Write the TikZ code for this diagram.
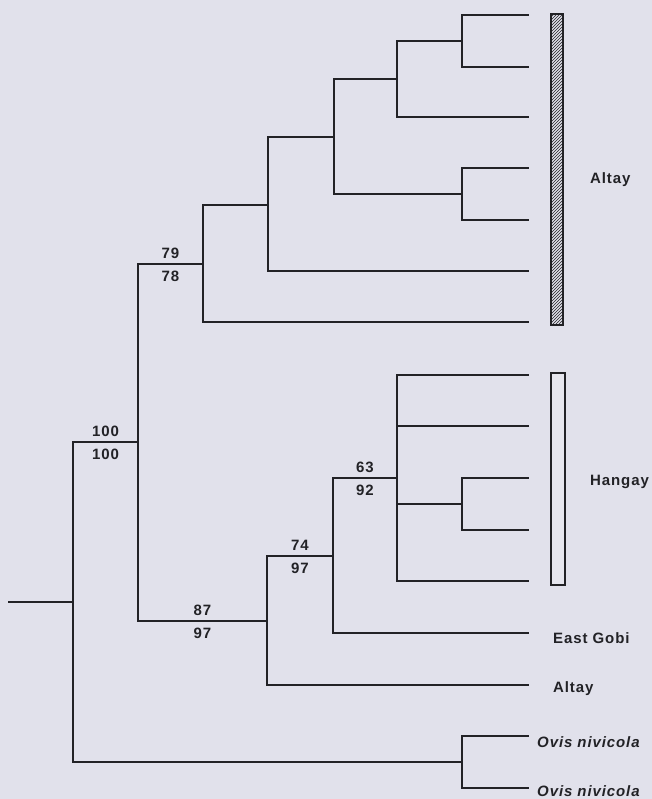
\documentclass[tikz,border=0pt]{standalone}
\usepackage{fontspec}
\newfontfamily\treefont{Liberation Sans}[LetterSpace=6]
\usetikzlibrary{patterns}
\definecolor{treebg}{HTML}{E1E1EB}
\definecolor{treeink}{HTML}{222226}

\begin{document}
\begin{tikzpicture}[x=1pt, y=-1pt,
  branch/.style={draw=treeink, line width=1.4pt, line cap=rect},
  bstop/.style={pos=0.75, yshift=10.5pt, font=\treefont\fontsize{15}{15}\selectfont\bfseries, text=treeink},
  bsbot/.style={pos=0.75, yshift=-12.5pt, font=\treefont\fontsize{15}{15}\selectfont\bfseries, text=treeink},
  taxon/.style={anchor=west, inner sep=0pt, font=\treefont\fontsize{15}{15}\selectfont\bfseries, text=treeink},
  bar/.style={draw=treeink, line width=1.6pt, inner sep=0pt}
]
\useasboundingbox (0,0) rectangle (652,799);
\fill[treebg] (0,0) rectangle (652,799);

% tips
\coordinate (l1) at (528,15);
\coordinate (l2) at (528,67);
\coordinate (l3) at (528,117);
\coordinate (l4) at (528,168);
\coordinate (l5) at (528,220);
\coordinate (l6) at (528,271);
\coordinate (l7) at (528,322);
\coordinate (h1) at (528,375);
\coordinate (h2) at (528,426);
\coordinate (h3) at (528,478);
\coordinate (h4) at (528,530);
\coordinate (h5) at (528,581);
\coordinate (gobi) at (528,633);
\coordinate (alt) at (528,685);
\coordinate (ov1) at (528,736);
\coordinate (ov2) at (528,788);

% internal nodes
\coordinate (root) at (9,602);
\coordinate (nR) at (73,602);
\coordinate (nG) at (138,442);
\coordinate (nF) at (203,264);
\coordinate (nE) at (268,205);
\coordinate (nD) at (334,137);
\coordinate (nB) at (397,79);
\coordinate (nA) at (462,41);
\coordinate (nC) at (462,194);
\coordinate (nH) at (267,621);
\coordinate (nI) at (333,556);
\coordinate (nJ) at (397,478);
\coordinate (nK) at (462,504);
\coordinate (nO) at (462,762);

% branches
\draw[branch] (root) -- (nR);
\draw[branch] (nR) |- node[bstop]{100} node[bsbot]{100} (nG);
\draw[branch] (nR) |- (nO);
\draw[branch] (nG) |- node[bstop]{79} node[bsbot]{78} (nF);
\draw[branch] (nG) |- node[bstop]{87} node[bsbot]{97} (nH);
\draw[branch] (nF) |- (nE);
\draw[branch] (nF) |- (l7);
\draw[branch] (nE) |- (nD);
\draw[branch] (nE) |- (l6);
\draw[branch] (nD) |- (nB);
\draw[branch] (nD) |- (nC);
\draw[branch] (nB) |- (nA);
\draw[branch] (nB) |- (l3);
\draw[branch] (nA) |- (l1);
\draw[branch] (nA) |- (l2);
\draw[branch] (nC) |- (l4);
\draw[branch] (nC) |- (l5);
\draw[branch] (nH) |- node[bstop]{74} node[bsbot]{97} (nI);
\draw[branch] (nH) |- (alt);
\draw[branch] (nI) |- node[bstop]{63} node[bsbot]{92} (nJ);
\draw[branch] (nI) |- (gobi);
\draw[branch] (nJ) |- (h1);
\draw[branch] (nJ) |- (h2);
\draw[branch] (nJ) |- (nK);
\draw[branch] (nJ) |- (h5);
\draw[branch] (nK) |- (h3);
\draw[branch] (nK) |- (h4);
\draw[branch] (nO) |- (ov1);
\draw[branch] (nO) |- (ov2);

% group bars and labels
\node[bar, pattern=north east lines, pattern color=treeink, minimum width=12pt, minimum height=311pt] (altaybar) at (557,169.5) {};
\node[bar, fill=treebg!85!white, minimum width=14pt, minimum height=212pt] (hangaybar) at (558,479) {};
\node[taxon] (altaylab) at (590,180) {Altay};
\node[taxon] (hangaylab) at (590,482) {Hangay};
\node[taxon] (gobilab) at (553,638) {East Gobi};
\node[taxon] (altlab) at (553,689) {Altay};
\node[taxon, font=\treefont\fontsize{15}{15}\selectfont\bfseries\itshape] (ov1lab) at (537,742) {Ovis nivicola};
\node[taxon, font=\treefont\fontsize{15}{15}\selectfont\bfseries\itshape] (ov2lab) at (537,791) {Ovis nivicola};
\end{tikzpicture}
\end{document}
